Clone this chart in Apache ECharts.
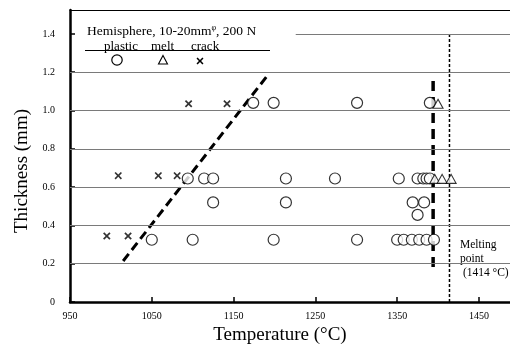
<!DOCTYPE html>
<html><head><meta charset="utf-8">
<script src="https://cdn.jsdelivr.net/npm/echarts@6/dist/echarts.min.js"></script>
<style>html,body{margin:0;padding:0;background:#fff}#c{width:510px;height:346px}</style>
</head><body><div id="c"></div>
<script>
// ---- data ----
var plasticT = [1174,1199,1301,1390, 1094,1114,1125,1214,1274,1352,1375,1382,1386,1390, 1125,1214,1369,1383, 1375, 1050,1100,1199,1301,1350,1358,1368,1377,1386,1395];
var plasticH = [1.04,1.04,1.04,1.04, 0.645,0.645,0.645,0.645,0.645,0.645,0.645,0.645,0.645,0.645, 0.52,0.52,0.52,0.52, 0.455, 0.325,0.325,0.325,0.325,0.325,0.325,0.325,0.325,0.325,0.325];
var meltT = [1400, 1396,1405,1416];
var meltH = [1.035, 0.643,0.643,0.643];
var crackT = [1095,1142, 1009,1058,1081, 995,1021];
var crackH = [1.035,1.035, 0.66,0.66,0.66, 0.345,0.345];
var boundaryT = [1015, 1192];
var boundaryH = [0.214, 1.186];
var limitT = [1394, 1394];
var limitH = [0.183, 1.17];
var meltPointT = 1414;
var gridValues = [0.2,0.4,0.6,0.8,1.0,1.2];
var xTicks = [950,1050,1150,1250,1350,1450];
var yTicks = [0,0.2,0.4,0.6,0.8,1.0,1.2,1.4];

function pairs(a,b){return a.map(function(v,i){return [v,b[i]];});}
var serif = '"Liberation Serif","DejaVu Serif",serif';
var crossD = 'M0,1.6L1.6,0L5,3.4L8.4,0L10,1.6L6.6,5L10,8.4L8.4,10L5,6.6L1.6,10L0,8.4L3.4,5Z';

var chart = echarts.init(document.getElementById('c'));
chart.setOption({
  animation:false,
  backgroundColor:'#fff',
  grid:{left:70,right:0,top:10,bottom:44,containLabel:false,outerBoundsMode:'none'},
  xAxis:[{
    type:'value',min:950,max:1488,interval:100,
    name:'Temperature (°C)',nameLocation:'middle',nameGap:24,
    nameTextStyle:{fontFamily:serif,fontSize:19,color:'#000',padding:[0,20,0,0]},
    axisLine:{lineStyle:{color:'#000',width:2.5}},
    axisTick:{inside:true,length:5,lineStyle:{color:'#000',width:1.5}},
    axisLabel:{fontFamily:serif,fontSize:10,color:'#000',margin:9,showMaxLabel:false,
      formatter:function(v){return xTicks.indexOf(v)>=0?String(v):'';}},
    splitLine:{show:false}
  },{
    type:'value',position:'top',min:950,max:1488,
    axisLine:{show:true,lineStyle:{color:'#000',width:1}},
    axisTick:{show:false},axisLabel:{show:false},splitLine:{show:false}
  }],
  yAxis:{
    type:'value',min:0,max:1.525,interval:0.2,
    name:'Thickness (mm)',nameLocation:'middle',nameGap:36,
    nameTextStyle:{fontFamily:serif,fontSize:19,color:'#000',padding:[0,30,0,0]},
    axisLine:{lineStyle:{color:'#000',width:2.5}},
    axisTick:{inside:true,length:5,lineStyle:{color:'#000',width:1.5}},
    axisLabel:{fontFamily:serif,fontSize:10,color:'#000',margin:15,showMaxLabel:false,
      formatter:function(v){
        var r=Math.round(v*10)/10;
        if(Math.abs(r-v)>1e-6||yTicks.indexOf(r)<0) return '';
        return r===0?'0':r.toFixed(1);}},
    splitLine:{show:false}
  },
  series:[
    {type:'line',data:[],silent:true,
      markLine:{silent:true,symbol:'none',label:{show:false},
        lineStyle:{color:'#7a7a7a',type:'solid',width:1},
        data:gridValues.map(function(v){return {yAxis:v};}).concat([[{coord:[1226,1.4]},{coord:[1488,1.4]}]])}},
    {type:'line',data:[[meltPointT,0],[meltPointT,1.4]],symbol:'none',
      lineStyle:{color:'#000',width:1.5,type:[3,2]}},
    {type:'line',data:pairs(boundaryT,boundaryH),symbol:'none',
      lineStyle:{color:'#000',width:3,type:[9,5]}},
    {type:'line',data:pairs(limitT,limitH),symbol:'none',
      lineStyle:{color:'#000',width:3.5,type:[10,6]}},
    {type:'scatter',name:'plastic',data:pairs(plasticT,plasticH),symbol:'circle',symbolSize:11,
      itemStyle:{color:'#fff',borderColor:'#000',borderWidth:1.2},z:5},
    {type:'scatter',name:'melt',data:pairs(meltT,meltH),symbol:'triangle',symbolSize:[10,9],
      itemStyle:{color:'#fff',borderColor:'#000',borderWidth:1.1},z:6},
    {type:'scatter',name:'crack',data:pairs(crackT,crackH),symbol:'path://'+crossD,symbolSize:7.5,
      itemStyle:{color:'#000'},z:6}
  ],
  graphic:[
    {type:'text',left:87,top:24,style:{rich:{a:{fontFamily:serif,fontSize:13.5,fill:'#000'},s:{fontFamily:serif,fontSize:8,fill:'#000',padding:[0,0,7,0]}},
      text:'{a|Hemisphere, 10-20mm}{s|φ}{a|, 200 N}'}},
    {type:'line',shape:{x1:85,y1:50.5,x2:270,y2:50.5},style:{stroke:'#000',lineWidth:1}},
    {type:'text',left:104,top:40,style:{text:'plastic',font:'13px '+serif,fill:'#000'}},
    {type:'text',left:151,top:40,style:{text:'melt',font:'13px '+serif,fill:'#000'}},
    {type:'text',left:191,top:40,style:{text:'crack',font:'13px '+serif,fill:'#000'}},
    {type:'circle',shape:{cx:117,cy:60,r:5.2},style:{fill:'#fff',stroke:'#000',lineWidth:1.2}},
    {type:'polygon',shape:{points:[[163,55.5],[167.5,64],[158.5,64]]},style:{fill:'#fff',stroke:'#000',lineWidth:1.1}},
    {type:'polygon',shape:{points:[[196.5,58.6],[197.6,57.5],[200,59.9],[202.4,57.5],[203.5,58.6],[201.1,61],[203.5,63.4],[202.4,64.5],[200,62.1],[197.6,64.5],[196.5,63.4],[198.9,61]]},style:{fill:'#000'}},
    {type:'text',left:460,top:238,style:{text:'Melting\npoint\n (1414 °C)',font:'11.5px '+serif,fill:'#000',lineHeight:14}}
  ]
});
</script>
</body></html>
